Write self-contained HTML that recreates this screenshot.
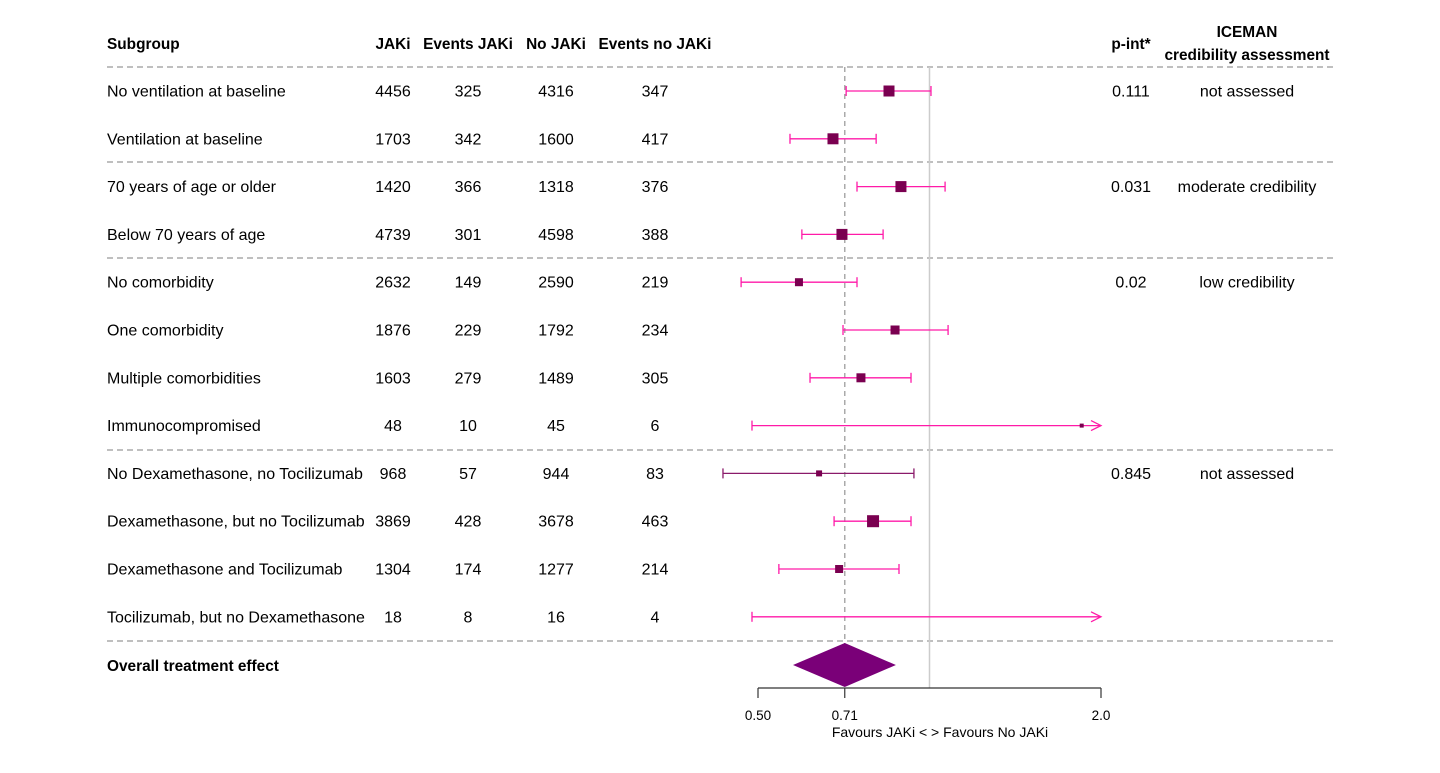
<!DOCTYPE html>
<html><head><meta charset="utf-8"><style>
body{margin:0;background:#fff;}
svg text{font-family:"Liberation Sans",Arial,sans-serif;fill:#000;}
</style></head><body>
<svg id="c" width="1440" height="768" xmlns="http://www.w3.org/2000/svg"></svg>
<script>
const labels=["No ventilation at baseline","Ventilation at baseline","70 years of age or older","Below 70 years of age","No comorbidity","One comorbidity","Multiple comorbidities","Immunocompromised","No Dexamethasone, no Tocilizumab","Dexamethasone, but no Tocilizumab","Dexamethasone and Tocilizumab","Tocilizumab, but no Dexamethasone"];
const nJak=[4456,1703,1420,4739,2632,1876,1603,48,968,3869,1304,18];
const evJak=[325,342,366,301,149,229,279,10,57,428,174,8];
const nNo=[4316,1600,1318,4598,2590,1792,1489,45,944,3678,1277,16];
const evNo=[347,417,376,388,219,234,305,6,83,463,214,4];
const est=[0.849,0.677,0.891,0.702,0.590,0.870,0.758,1.85,0.640,0.796,0.694,null];
const lo=[0.714,0.569,0.746,0.597,0.467,0.705,0.617,0.488,0.434,0.680,0.544,0.488];
const hi=[1.006,0.806,1.065,0.829,0.746,1.078,0.928,2.5,0.939,0.928,0.884,2.5];
const msize=[11,11,11,11,8,9,9,4,6,12,8,0];
const pint=["0.111","","0.031","","0.02","","","","0.845","","",""];
const iceman=["not assessed","","moderate credibility","","low credibility","","","","not assessed","","",""];
const overall=[0.576,0.71,0.873];
const ticks=[0.5,0.71,2.0];
const tickLabels=["0.50","0.71","2.0"];

const svg=document.getElementById('c');const NS="http://www.w3.org/2000/svg";
function el(t,a,txt){const e=document.createElementNS(NS,t);for(const k in a)e.setAttribute(k,a[k]);if(txt!==undefined)e.textContent=txt;svg.appendChild(e);return e;}
const X0=758,X1=1101,VMIN=0.5,VMAX=2.0;
function x(v){return X0+(X1-X0)*Math.log(v/VMIN)/Math.log(VMAX/VMIN);}
function rowY(i){return 91+i*47.8;}
const hdr=[["Subgroup",107,"start"],["JAKi",393,"middle"],["Events JAKi",468,"middle"],["No JAKi",556,"middle"],["Events no JAKi",655,"middle"],["p-int*",1131,"middle"]];
hdr.forEach(h=>{const t=el('text',{x:h[1],y:49,'font-size':15.4,'font-weight':'bold','text-anchor':h[2]},h[0]);

});
let t=el('text',{x:1247,y:37,'font-size':15.4,'font-weight':'bold','text-anchor':'middle'},"ICEMAN");

t=el('text',{x:1247,y:60,'font-size':15.4,'font-weight':'bold','text-anchor':'middle'},"credibility assessment");

[67,162,258,450,641].forEach(y=>{const l=el('line',{x1:107,x2:1333,y1:y,y2:y,stroke:'#999','stroke-width':1.2,'stroke-dasharray':'6,4'});
});
let l=el('line',{x1:x(1.0),x2:x(1.0),y1:67,y2:688,stroke:'#ccc','stroke-width':1.5});

l=el('line',{x1:x(overall[1]),x2:x(overall[1]),y1:67,y2:688,stroke:'#aaa','stroke-width':1.5,'stroke-dasharray':'5,4'});

labels.forEach((lab,i)=>{const y=rowY(i);
 const cols=[[lab,107,'start'],[nJak[i],393,'middle'],[evJak[i],468,'middle'],[nNo[i],556,'middle'],[evNo[i],655,'middle'],[pint[i],1131,'middle'],[iceman[i],1247,'middle']];
 cols.forEach((c,j)=>{if(c[0]==="")return;const tt=el('text',{x:c[1],y:y+5.5,'font-size':16,'text-anchor':c[2]},c[0]);
  });
 const col=i===8?'#8a1a6a':'#ff1aa8';
 const xl=x(lo[i]),xh=Math.min(x(hi[i]),X1);
 const ci=el('line',{x1:xl,x2:xh,y1:y,y2:y,stroke:col,'stroke-width':1.3});
 
 el('line',{x1:xl,x2:xl,y1:y-5,y2:y+5,stroke:col,'stroke-width':1.3});
 if(hi[i]>VMAX){const a=el('polyline',{points:`${X1-10},${y-5} ${X1},${y} ${X1-10},${y+5}`,fill:'none',stroke:col,'stroke-width':1.3});
  }
 else el('line',{x1:xh,x2:xh,y1:y-5,y2:y+5,stroke:col,'stroke-width':1.3});
 if(est[i]!==null&&est[i]<=VMAX){const s=msize[i];const r=el('rect',{x:x(est[i])-s/2,y:y-s/2,width:s,height:s,fill:'#7a0050'});
  }
});
t=el('text',{x:107,y:671,'font-size':15.4,'font-weight':'bold'},"Overall treatment effect");

const d=el('polygon',{points:`${x(overall[0])},665 ${x(overall[1])},643 ${x(overall[2])},665 ${x(overall[1])},687`,fill:'#7a0078'});

l=el('line',{x1:X0,x2:X1,y1:688,y2:688,stroke:'#333','stroke-width':1.2});

ticks.forEach((v,i)=>{el('line',{x1:x(v),x2:x(v),y1:688,y2:698,stroke:'#333','stroke-width':1.2});
 const tt=el('text',{x:x(v),y:720,'font-size':13.5,'text-anchor':'middle'},tickLabels[i]);
 });
t=el('text',{x:940,y:737,'font-size':14,'text-anchor':'middle'},"Favours JAKi < > Favours No JAKi");

</script>
</body></html>
